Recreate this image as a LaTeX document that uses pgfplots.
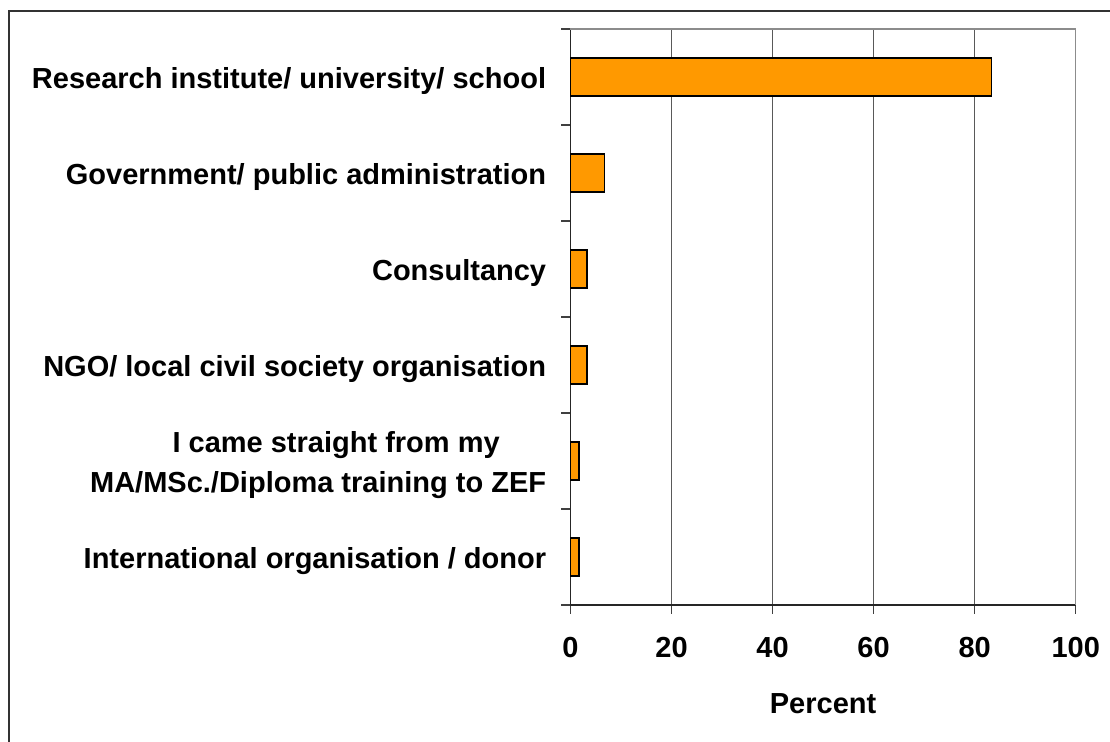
\documentclass[border=0pt]{standalone}
\usepackage{pgfplots}
\pgfplotsset{compat=1.18}
\usepackage{fontspec}
\setmainfont{Liberation Sans}
\definecolor{barorange}{HTML}{FF9900}
\begin{document}
\begin{tikzpicture}[x=1pt,y=1pt]
\useasboundingbox (0,0) rectangle (555,371);
\draw[line width=1pt, black!80] (4.4,0) -- (4.4,365.6) -- (556,365.6);
\begin{axis}[
  at={(285.25pt,68.5pt)}, anchor=south west,
  scale only axis, width=252.6pt, height=288pt,
  xmin=0, xmax=100, ymin=-0.5, ymax=5.5,
  axis lines*=left,
  axis line style={black!85, line width=0.6pt},
  tick align=outside,
  major tick length=4.5pt,
  tick style={black!75, line width=0.6pt},
  xtick={0,20,...,100},
  xmajorgrids,
  grid style={black!65, line width=0.5pt},
  ytick={-0.5,0.5,...,5.5},
  yticklabels={},
  extra y ticks={0,1,2,3,4,5},
  extra y tick labels={International organisation / donor,{\hspace*{18pt}I came straight from my\\MA/MSc./Diploma training to ZEF},NGO/ local civil society organisation,Consultancy,Government/ public administration,Research institute/ university/ school},
  extra y tick style={major tick length=0pt, yticklabel style={anchor=east, align=center, inner sep=0pt, xshift=-12pt, yshift=-2pt}},
  /pgf/number format/assume math mode=true,
  tick label style={font=\fontsize{14.5}{20}\selectfont\bfseries},
  xticklabel style={anchor=base, yshift=-22pt},
  xlabel={Percent},
  xlabel style={font=\fontsize{14.5}{20}\selectfont\bfseries, at={(axis description cs:0.5,0)}, anchor=base, yshift=-54.25pt},
  xbar, bar width=0.4,
  clip=false,
  after end axis/.code={
    \draw[black!45, line width=0.7pt] (axis cs:0,5.5) -- (axis cs:100,5.5) -- (axis cs:100,-0.5);
  },
]
\addplot[fill=barorange, draw=black, line width=0.75pt] coordinates {
  (1.7,0) (1.7,1) (3.3,2) (3.3,3) (6.7,4) (83.3,5)
};
\end{axis}
\end{tikzpicture}
\end{document}
